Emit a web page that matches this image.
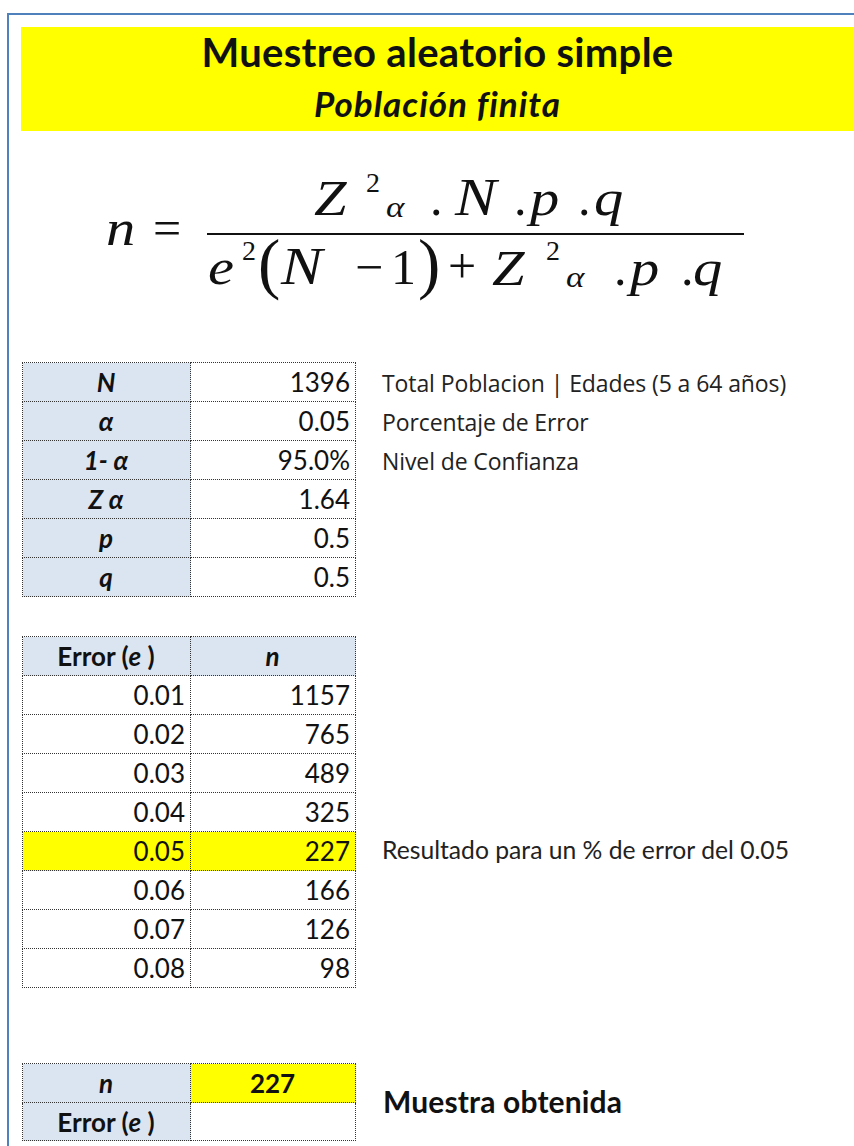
<!DOCTYPE html>
<html>
<head>
<meta charset="utf-8">
<script src="https://cdn.jsdelivr.net/npm/chart.js@4"></script>
<style>
  html, body { margin: 0; padding: 0; background: #fff; }
  body { width: 854px; height: 1146px; position: relative; overflow: hidden; font-family: Lato, "Open Sans", sans-serif; color: #111; }
  .frame { position: absolute; left: 7px; top: 13px; width: 900px; height: 1200px; border-left: 2px solid #4f81bd; border-top: 2px solid #4f81bd; }
  .banner { position: absolute; left: 21px; top: 27px; width: 833px; height: 104px; background: #ffff00; }
  .txt { position: absolute; line-height: 1; white-space: nowrap; }
  .f { position: absolute; line-height: 1; font-family: "Liberation Serif", "Times New Roman", serif; white-space: nowrap; }
  table.grid { position: absolute; border-collapse: collapse; font-size: 26px; line-height: 1; }
  table.grid td { border: 1px dotted #333; padding: 0 5px 0 4px; box-sizing: border-box; }
  td.lab { background: #dbe5f1; text-align: center; font-weight: bold; font-style: italic; }
  td.hd { background: #dbe5f1; text-align: center; font-weight: bold; }
  td.val { text-align: right; }
  tr.hi td { background: #ffff00; }
</style>
</head>
<body>
<div class="frame"></div>
<div class="banner"></div>
<div id="texts"></div>
<div id="formula"></div>

<table class="grid" id="params" style="left:22px; top:362px;"></table>
<table class="grid" id="errTable" style="left:22px; top:636px;"></table>
<table class="grid" id="finalTable" style="left:22px; top:1063px;"></table>

<script>
const title = "Muestreo aleatorio simple";
const subtitle = "Población finita";

// parameter table
const paramLabels = ["N", "α", "1- α", "Z α", "p", "q"];
const paramValues = ["1396", "0.05", "95.0%", "1.64", "0.5", "0.5"];
const paramNotes = ["Total Poblacion | Edades (5 a 64 años)", "Porcentaje de Error", "Nivel de Confianza"];

// sample size by error
const errorLevels = ["0.01", "0.02", "0.03", "0.04", "0.05", "0.06", "0.07", "0.08"];
const sampleSizes = [1157, 765, 489, 325, 227, 166, 126, 98];
const chosenError = "0.05";
const resultNote = "Resultado para un % de error del 0.05";
const finalN = 227;
const finalNote = "Muestra obtenida";

const rowH = 39;
const c1 = 168, c2 = 165;

// place a text so that its baseline lands on y
function putText(parent, cls, txt, x, baseline, size, ascent, style) {
  const d = document.createElement("div");
  d.className = cls;
  d.textContent = txt;
  d.style.left = x + "px";
  d.style.top = (baseline - ascent * size) + "px";
  d.style.fontSize = size + "px";
  if (style) d.style.cssText += style;
  parent.appendChild(d);
  return d;
}

const tx = document.getElementById("texts");
putText(tx, "txt", title, 0, 67, 40, 0.887, "width:833px;left:21px;text-align:center;font-weight:bold;letter-spacing:0.3px;");
putText(tx, "txt", subtitle, 0, 117, 35, 0.887, "width:833px;left:21px;text-align:center;font-weight:bold;font-style:italic;letter-spacing:1px;");

paramNotes.forEach(function (txt, i) {
  putText(tx, "txt", txt, 382, 392 + i * rowH, 23, 0.888, 'font-family:"Open Sans",sans-serif;color:#222;letter-spacing:-0.1px;');
});
putText(tx, "txt", resultNote, 382, 860, 24.7, 0.887, "color:#222;");
putText(tx, "txt", finalNote, 383, 1113, 30, 0.887, "font-weight:bold;letter-spacing:0.15px;");

function colgroup(t) {
  t.innerHTML = '<colgroup><col style="width:' + c1 + 'px"><col style="width:' + c2 + 'px"></colgroup>';
}

const pt = document.getElementById("params");
colgroup(pt);
paramLabels.forEach(function (lab, i) {
  const tr = document.createElement("tr");
  tr.style.height = rowH + "px";
  tr.innerHTML = '<td class="lab">' + lab + '</td><td class="val">' + paramValues[i] + '</td>';
  pt.appendChild(tr);
});

const et = document.getElementById("errTable");
colgroup(et);
const hr = document.createElement("tr");
hr.style.height = rowH + "px";
hr.innerHTML = '<td class="hd">Error (<i>e</i> )</td><td class="hd"><i>n</i></td>';
et.appendChild(hr);
errorLevels.forEach(function (e, i) {
  const tr = document.createElement("tr");
  tr.style.height = rowH + "px";
  if (e === chosenError) tr.className = "hi";
  tr.innerHTML = '<td class="val">' + e + '</td><td class="val">' + sampleSizes[i] + '</td>';
  et.appendChild(tr);
});

const ft = document.getElementById("finalTable");
colgroup(ft);
ft.innerHTML += '<tr style="height:39px"><td class="lab">n</td><td style="background:#ffff00;text-align:center;font-weight:bold;">' + finalN + '</td></tr>' +
  '<tr style="height:38px"><td class="hd">Error (<i>e</i> )</td><td></td></tr>';

// formula glyphs: [text, left, baseline, size, italic]
const formulaParts = [
  ["n", 106, 245, 50, 1], ["=", 153, 245, 50, 0],
  ["Z", 314, 215, 50, 1], ["2", 366, 192, 28, 0], ["α", 386, 217, 30, 1],
  [".", 430, 215, 50, 0], ["N", 455, 215, 53, 1], [".", 514, 215, 50, 0], ["p", 530, 215, 50, 1], [".", 578, 215, 50, 0], ["q", 594, 215, 50, 1],
  ["e", 208, 284, 50, 1], ["2", 242, 260, 28, 0], ["(", 258, 286, 67, 0], ["N", 281, 284, 53, 1], ["−", 355, 284, 50, 0], ["1", 391, 284, 50, 0], [")", 418, 286, 67, 0],
  ["+", 448, 283, 50, 0], ["Z", 492, 285, 50, 1], ["2", 546, 260, 28, 0], ["α", 566, 287, 30, 1],
  [".", 614, 285, 50, 0], ["p", 630, 285, 50, 1], [".", 681, 285, 50, 0], ["q", 693, 285, 50, 1]
];
const fDiv = document.getElementById("formula");
formulaParts.forEach(function (p) {
  const st = p[4] ? "font-style:italic;transform:scaleX(1.17);transform-origin:left center;" : "";
  putText(fDiv, "f", p[0], p[1], p[2], p[3], 0.8375, st);
});
const bar = document.createElement("div");
bar.style.cssText = "position:absolute;left:207px;top:233px;width:537px;height:2px;background:#111;";
fDiv.appendChild(bar);
</script>
</body>
</html>
